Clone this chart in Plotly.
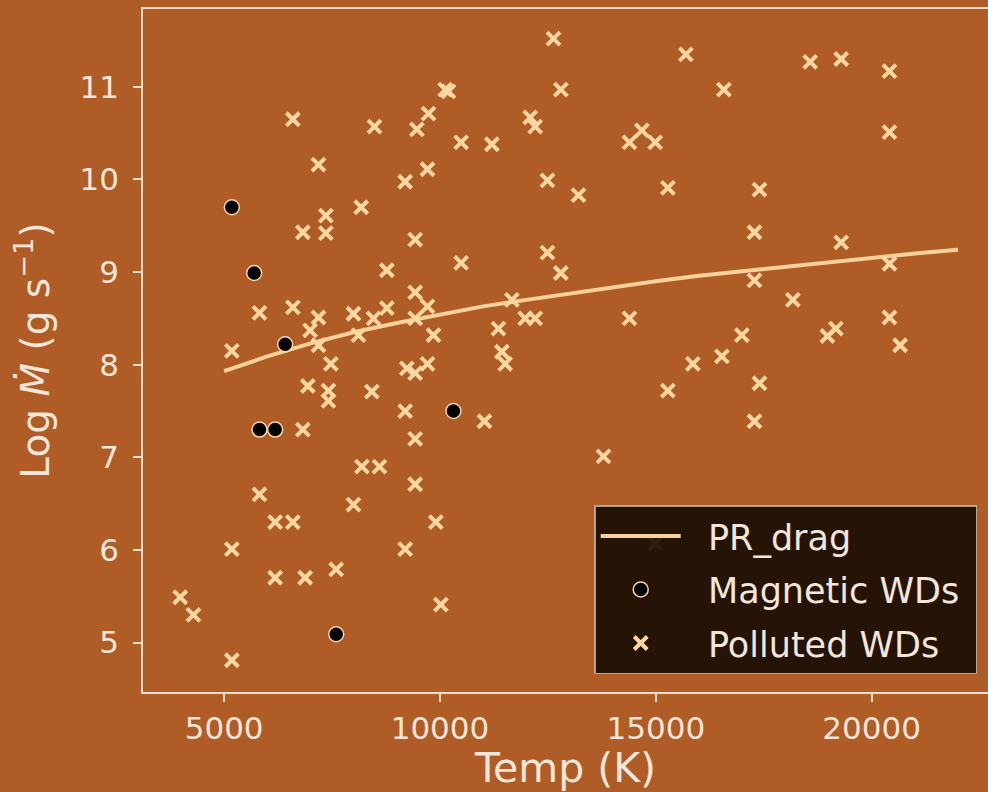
import plotly.graph_objects as go

# ---- data ----
polluted_temp = [12629, 10120, 10196, 12800, 6591, 8482, 9464, 9733, 10490, 11202,
                 12089, 12205, 7185, 9193, 9710, 12490, 8174, 6823, 7356, 7356,
                 9425, 8769, 10490, 12490, 12800, 5818, 6591, 7185, 7995, 8459,
                 8769, 9425, 9710, 9425, 9849, 6992, 8111, 11665, 11354, 11973,
                 12205, 11433, 5178, 7185, 11510, 7472, 9232, 9425, 9710, 6939,
                 7416, 7416, 8422, 9193, 11030, 6823, 9425, 8190, 8598, 9425,
                 5818, 7995, 6181, 6591, 9904, 5178, 9193, 6181, 6876, 7595,
                 3981, 4289, 10020, 5178, 15696, 18575, 19293, 20412, 16576, 20412,
                 14676, 14389, 14985, 13208, 15279, 17401, 17285, 19293, 17285, 20412,
                 18175, 14389, 20412, 16993, 19171, 18976, 20660, 16530, 15858, 15279,
                 17401, 17285, 13787, 14985]
polluted_mdot = [11.52, 10.97, 10.95, 10.97, 10.65, 10.57, 10.54, 10.71, 10.40, 10.38,
                 10.67, 10.57, 10.16, 9.975, 10.11, 9.99, 9.70, 9.43, 9.61, 9.42,
                 9.35, 9.02, 9.10, 9.21, 8.99, 8.56, 8.62, 8.51, 8.55, 8.50,
                 8.61, 8.78, 8.63, 8.50, 8.32, 8.37, 8.32, 8.70, 8.39, 8.50,
                 8.50, 8.14, 8.15, 8.21, 8.01, 8.01, 7.96, 7.91, 8.01, 7.77,
                 7.72, 7.61, 7.71, 7.50, 7.39, 7.30, 7.20, 6.90, 6.90, 6.71,
                 6.60, 6.49, 6.30, 6.30, 6.30, 6.01, 6.01, 5.70, 5.70, 5.79,
                 5.49, 5.30, 5.41, 4.81, 11.35, 11.27, 11.30, 11.17, 10.97, 10.51,
                 10.53, 10.40, 10.40, 9.83, 9.91, 9.89, 9.43, 9.32, 8.91, 9.09,
                 8.70, 8.50, 8.51, 8.32, 8.39, 8.31, 8.21, 8.09, 8.01, 7.72,
                 7.80, 7.39, 7.01, 6.07]

magnetic_temp = [5178, 5695, 6413, 5818, 6181, 10312, 7595]
magnetic_mdot = [9.70, 8.99, 8.22, 7.30, 7.30, 7.50, 5.09]

pr_temp = [5000, 6000, 7000, 8000, 9000, 10000, 11000, 12000, 13000, 14000,
           15000, 16000, 17000, 18000, 19000, 20000, 21000, 22000]
pr_mdot = [7.93, 8.09, 8.23, 8.35, 8.45, 8.54, 8.63, 8.70, 8.77, 8.84,
           8.90, 8.96, 9.01, 9.06, 9.11, 9.16, 9.20, 9.24]

x_ticks = [5000, 10000, 15000, 20000]
y_ticks = [5, 6, 7, 8, 9, 10, 11]

# ---- styling ----
BG = "#B05C26"
CREAM = "#FAD7A0"
TEXT = "#F3E6DA"
AXIS = "#F0DCCB"
FONT = "DejaVu Sans"
PAD_L = "\u00a0\u00a0"
PAD_R = "\u00a0"

fig = go.Figure()

fig.add_trace(go.Scatter(
    x=pr_temp, y=pr_mdot, mode="lines", name=PAD_L + "PR_drag" + PAD_R,
    legendgroup="a",
    line=dict(color="#F7D199", width=4),
))
fig.add_trace(go.Scatter(
    x=magnetic_temp, y=magnetic_mdot, mode="markers",
    name=PAD_L + "Magnetic WDs" + PAD_R, legendgroup="b",
    marker=dict(symbol="circle", size=15, color="black",
                line=dict(color=CREAM, width=1.5)),
))
fig.add_trace(go.Scatter(
    x=polluted_temp, y=polluted_mdot, mode="markers",
    name=PAD_L + "Polluted WDs" + PAD_R, legendgroup="c",
    marker=dict(symbol="x-thin", size=13, color=CREAM,
                line=dict(color=CREAM, width=4)),
))

fig.update_layout(
    width=988, height=792,
    margin=dict(l=143, r=0, t=9, b=100),
    paper_bgcolor=BG, plot_bgcolor=BG,
    font=dict(family=FONT, color=TEXT, size=30),
    showlegend=True,
    legend=dict(
        x=0.534, y=0.026, xanchor="left", yanchor="bottom",
        bgcolor="rgba(22,11,3,0.9)", bordercolor="rgba(190,180,170,0.85)",
        borderwidth=1.5, font=dict(size=35, color=TEXT, family=FONT),
        itemwidth=80, tracegroupgap=5,
    ),
)

fig.update_xaxes(
    range=[3120, 22695], tickvals=x_ticks, ticktext=[str(v) for v in x_ticks],
    showgrid=False, zeroline=False,
    showline=True, linecolor=AXIS, linewidth=1.5, mirror=True,
    ticks="outside", ticklen=8, tickwidth=1.5, tickcolor=AXIS,
    tickfont=dict(size=31, color=TEXT, family=FONT),
    title=dict(text="Temp (K)", font=dict(size=41, color=TEXT, family=FONT), standoff=6),
)
fig.update_yaxes(
    range=[4.467, 11.84], tickvals=y_ticks, ticktext=[str(v) for v in y_ticks],
    showgrid=False, zeroline=False,
    showline=True, linecolor=AXIS, linewidth=1.5, mirror=False,
    ticks="outside", ticklen=8, tickwidth=1.5, tickcolor=AXIS,
    tickfont=dict(size=31, color=TEXT, family=FONT), ticklabelstandoff=8,
    title=dict(text="Log <i>Ṁ</i> (g s<sup>−1</sup>)",
               font=dict(size=39, color=TEXT, family=FONT), standoff=18),
)

fig.write_html(
    "out.html",
    config={"displayModeBar": False},
    post_script="document.body.style.margin='0';document.body.style.overflow='hidden';",
)
